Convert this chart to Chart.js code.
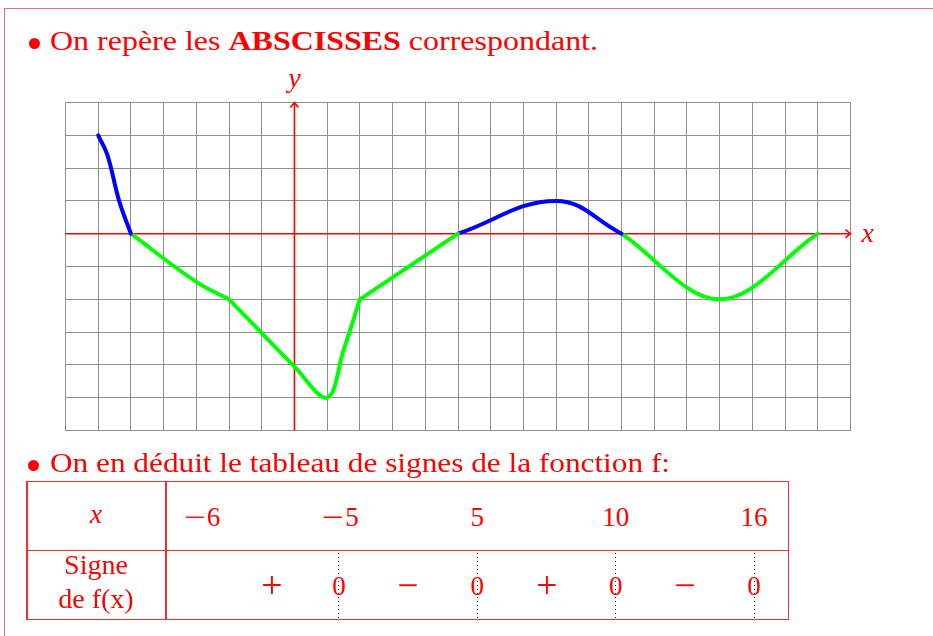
<!doctype html>
<html lang="fr">
<head>
<meta charset="utf-8">
<title>Tableau de signes</title>
<style>
  html, body { margin: 0; padding: 0; background: #fff; }
  body { width: 933px; height: 636px; position: relative; overflow: hidden;
         font-family: "Liberation Serif", "DejaVu Serif", serif; color: #f00; }
  #frame { position: absolute; left: 4px; top: 8px; width: 940px; height: 640px;
           border-top: 1.5px solid #ee7070; border-left: 1.5px solid #ee7070; }
  #graph { position: absolute; left: 0; top: 60px; }
  .bullet { position: absolute; width: 11px; height: 11px; border-radius: 50%; background: #f00; }
  .line { position: absolute; left: 50px; font-size: 28px; line-height: 1; white-space: nowrap; transform-origin: 0 0; }
  .lbl { position: absolute; line-height: 1; white-space: nowrap; }
  .rule { position: absolute; background: #ee3030; }
  .dots { position: absolute; width: 1px;
          background: repeating-linear-gradient(to bottom, #222 0 1px, transparent 1px 4px); }
  .minus { display: inline-block; transform: scaleX(1.45); margin-right: 5px; margin-left: 2px; }
</style>
</head>
<body>
<div id="frame"></div>
<canvas id="graph" width="933" height="390"></canvas>

<div class="bullet" style="left:28.5px; top:37.5px"></div>
<div class="line" id="line1" style="top:26.5px">On repère les <b>ABSCISSES</b> correspondant.</div>

<div class="bullet" style="left:28px; top:460px"></div>
<div class="line" id="line2" style="top:449px">On en déduit le tableau de signes de la fonction f:</div>

<div id="table"></div>

<script src="https://cdn.jsdelivr.net/npm/chart.js"></script>
<script>
  // curve pieces (x, y in grid units)
  const blue1X  = [-6, -5.72, -5.36, -5];
  const blue1Y  = [3, 2.4, 1, 0];
  const green1X = [-5, -3, -2];
  const green1Y = [0, -1.47, -2];
  const green2X = [-2, 0, 1, 1.5, 2];
  const green2Y = [-2, -4.05, -5, -3.56, -2];
  const green3X = [2, 5];
  const green3Y = [-2, 0];
  const blue2X  = [5, 8, 10];
  const blue2Y  = [0, 1, 0];
  const green4X = [10, 13, 16];
  const green4Y = [0, -2, 0];

  // sign table
  const tabX     = ['−6', '−5', '5', '10', '16'];
  const tabSigns = ['+', '−', '+', '−'];

  function pts(xs, ys) {
    return xs.map((x, i) => ({ x: x, y: ys[i] }));
  }

  function piece(xs, ys, color, tension) {
    return {
      data: pts(xs, ys),
      borderColor: color,
      borderWidth: 4,
      borderCapStyle: 'round',
      borderJoinStyle: 'round',
      pointRadius: 0,
      tension: tension,
      fill: false
    };
  }

  // red axes with arrows, drawn under the curve
  const axesPlugin = {
    id: 'axes',
    beforeDatasetsDraw(chart) {
      const ctx = chart.ctx, a = chart.chartArea;
      const x0 = chart.scales.x.getPixelForValue(0);
      const y0 = chart.scales.y.getPixelForValue(0);
      ctx.save();
      ctx.strokeStyle = '#f00';
      ctx.lineWidth = 1.6;
      ctx.beginPath();
      ctx.moveTo(a.left, y0); ctx.lineTo(a.right, y0);
      ctx.moveTo(x0, a.bottom); ctx.lineTo(x0, a.top);
      ctx.moveTo(a.right - 5, y0 - 4); ctx.lineTo(a.right, y0); ctx.lineTo(a.right - 5, y0 + 4);
      ctx.moveTo(x0 - 4, a.top + 5); ctx.lineTo(x0, a.top); ctx.lineTo(x0 + 4, a.top + 5);
      ctx.stroke();
      ctx.fillStyle = '#f00';
      ctx.font = 'italic 28px "Liberation Serif"';
      ctx.textAlign = 'left';
      ctx.fillText('x', a.right + 11, y0 + 8);
      ctx.textAlign = 'center';
      ctx.fillText('y', x0, a.top - 16);
      ctx.restore();
    }
  };

  const gridOpts = { color: '#8f8f8f', lineWidth: 1, drawTicks: false };

  new Chart(document.getElementById('graph'), {
    type: 'line',
    data: {
      datasets: [
        piece(blue1X, blue1Y, '#0000ff', 0.4),
        piece(green1X, green1Y, '#00ff00', 0.4),
        piece(green2X, green2Y, '#00ff00', 0.35),
        piece(green3X, green3Y, '#00ff00', 0),
        piece(blue2X, blue2Y, '#0000ff', 0.4),
        piece(green4X, green4Y, '#00ff00', 0.35)
      ]
    },
    options: {
      responsive: false,
      animation: false,
      layout: { padding: { left: 65.5, top: 42.5, right: 82.5, bottom: 19.5 } },
      plugins: { legend: { display: false }, tooltip: { enabled: false } },
      scales: {
        x: {
          type: 'linear', min: -7, max: 17,
          ticks: { display: false, stepSize: 1, maxTicksLimit: 100, autoSkip: false },
          grid: gridOpts,
          border: { display: false }
        },
        y: {
          type: 'linear', min: -6, max: 4,
          ticks: { display: false, stepSize: 1, maxTicksLimit: 100, autoSkip: false },
          grid: gridOpts,
          border: { display: false }
        }
      }
    },
    plugins: [axesPlugin]
  });

  // stretch the text lines to the width of the original typesetting
  function fitLine(id, target) {
    const el = document.getElementById(id);
    const w = el.getBoundingClientRect().width;
    el.style.transform = 'scaleX(' + (target / w) + ')';
  }
  fitLine('line1', 548);
  fitLine('line2', 620);

  // sign table
  const box = document.getElementById('table');
  function rule(l, t, w, h) {
    const d = document.createElement('div');
    d.className = 'rule';
    d.style.cssText = 'left:' + l + 'px;top:' + t + 'px;width:' + w + 'px;height:' + h + 'px';
    box.appendChild(d);
  }
  // text centred on (cx, cy); optional zoom k
  function put(text, cx, cy, size, k, italic) {
    const s = document.createElement('span');
    s.className = 'lbl';
    if (text.length > 1 && text.charAt(0) === '−') {
      const m = document.createElement('span');
      m.className = 'minus';
      m.textContent = '−';
      s.appendChild(m);
      s.appendChild(document.createTextNode(text.slice(1)));
    } else {
      s.textContent = text;
    }
    s.style.fontSize = size + 'px';
    s.style.left = cx + 'px';
    s.style.top = cy + 'px';
    s.style.transform = 'translate(-50%, -50%) scale(' + (k || 1) + ')';
    if (italic) s.style.fontStyle = 'italic';
    box.appendChild(s);
  }

  const tLeft = 26, tTop = 480.5, tRight = 789, tBottom = 620, tMid = 549.5, tCol = 165;
  rule(tLeft, tTop, tRight - tLeft, 1.5);
  rule(tLeft, tBottom - 1.5, tRight - tLeft, 1.5);
  rule(tLeft, tTop, 1.5, tBottom - tTop);
  rule(tRight - 1.5, tTop, 1.5, tBottom - tTop);
  rule(tLeft, tMid, tRight - tLeft, 1.5);
  rule(tCol, tTop, 1.5, tBottom - tTop);

  const colX = tabX.map((_, i) => 200.5 + i * 138.4);

  // dotted guides under the zeros
  colX.slice(1).forEach(cx => {
    const d = document.createElement('div');
    d.className = 'dots';
    d.style.left = (cx - 0.5) + 'px';
    d.style.top = (tMid + 3) + 'px';
    d.style.height = (tBottom - tMid - 4) + 'px';
    box.appendChild(d);
  });

  put('x', 96, 514, 28, 1, true);
  put('Signe', 96, 565, 28);
  put('de f(x)', 96, 599, 28);

  tabX.forEach((t, i) => put(t, colX[i] + (i < 2 ? 2 : 0), 516.5, 27));
  colX.slice(1).forEach(cx => put('0', cx, 585.5, 27));
  tabSigns.forEach((s, i) => put(s, (colX[i] + colX[i + 1]) / 2 + (i === 0 ? 2 : 0), 586, 27, 1.4));
</script>
</body>
</html>
